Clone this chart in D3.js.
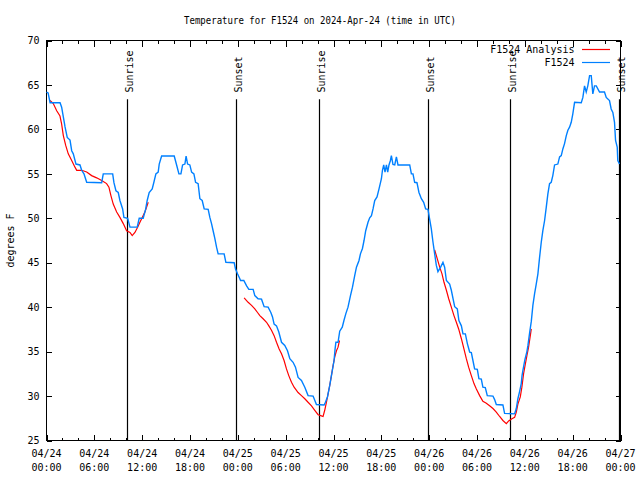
<!DOCTYPE html>
<html><head><meta charset="utf-8">
<script src="https://cdn.jsdelivr.net/npm/d3@7"></script>
<style>
body{margin:0;background:#fff}
svg text{font-family:"DejaVu Sans Mono","Liberation Mono",monospace;font-size:10px;fill:#000}
</style>
</head><body>
<svg id="chart" width="640" height="480"></svg>
<script>
// ---------- data ----------
const chartTitle = "Temperature for F1524 on 2024-Apr-24 (time in UTC)";
const yLabel = "degrees F";
const startUTC = "2024-04-24T00:00:00Z";
const spanHours = 72;
const majorTickHours = [0,6,12,18,24,30,36,42,48,54,60,66,72];
const minorTickHours = [2,4,8,10,14,16,20,22,26,28,32,34,38,40,44,46,50,52,56,58,62,64,68,70];
const xTickDates = ["04/24","04/24","04/24","04/24","04/25","04/25","04/25","04/25","04/26","04/26","04/26","04/26","04/27"];
const xTickTimes = ["00:00","06:00","12:00","18:00","00:00","06:00","12:00","18:00","00:00","06:00","12:00","18:00","00:00"];
const yTicks = [25,30,35,40,45,50,55,60,65,70];
const yDomain = [25,70];
const sunriseUTC = ["2024-04-24T10:08:00Z","2024-04-25T10:11:00Z","2024-04-26T10:09:00Z"];
const sunsetUTC  = ["2024-04-24T23:47:00Z","2024-04-25T23:53:00Z","2024-04-26T23:55:00Z"];
const sunLineTop = 63.4;     // degrees F where the marker line ends
const sunLabelBase = 64.15;  // degrees F where the marker label starts
const seriesNames = ["F1524 Analysis","F1524"];
const seriesColors = ["#ff0000","#0080ff"];

// F1524 observations: [hours since start, degrees F]
const stationObs = [[0.0,64.2],[0.2,64.1],[0.45,63],[1.7,63],[1.9,62.5],[2.11,61.4],[2.32,60.3],[2.6,59.1],[2.95,58.8],[3.16,57.6],[3.36,57.25],[3.7,56.1],[4.2,56],[4.41,55.4],[4.7,55],[5.04,54.05],[6.92,54],[7.12,55],[8.3,55],[8.46,54],[8.71,53.1],[9.0,52.9],[9.21,52],[9.55,51.05],[9.71,50.1],[10.18,50],[10.47,49],[11.38,49],[11.63,50],[12.13,50],[12.43,51],[12.63,52],[12.88,52.9],[13.26,53.3],[13.47,54.05],[13.72,55],[14.01,55.2],[14.14,56.1],[14.44,57],[16.02,57],[16.32,56],[16.61,55],[16.86,55],[17.07,56],[17.36,56.1],[17.51,57],[17.7,56.1],[17.98,56],[18.2,55.2],[18.49,55],[18.7,54.05],[19.02,53.9],[19.24,52.2],[19.53,52],[19.78,51.05],[20.28,51],[20.49,50.1],[20.7,49.4],[20.9,48.6],[21.12,47.7],[21.33,46.75],[21.53,46],[22.28,46],[22.5,45.05],[23.54,45],[23.71,44.3],[23.96,43.75],[24.25,43.2],[24.34,43],[24.75,43],[25.1,42.4],[25.38,42],[25.92,42],[26.13,41.3],[26.54,40.95],[26.97,40.9],[27.3,40.05],[27.8,40],[28.14,39.4],[28.35,38.9],[28.55,38.1],[28.85,37.9],[29.14,37.2],[29.48,36.05],[29.89,35.7],[30.23,35.1],[30.52,34.2],[30.93,33.8],[31.23,33.25],[31.56,32.1],[31.98,31.75],[32.4,31],[32.81,30.05],[33.44,30],[33.86,29.05],[34.82,29],[34.99,29.3],[35.24,29.9],[35.53,31.2],[35.74,32.3],[36.07,34],[36.2,35.3],[36.3,36.05],[36.57,36.05],[36.78,37.3],[37.1,37.75],[37.31,38.5],[37.54,39.25],[37.82,40],[38.13,41.3],[38.38,42.25],[38.66,43.55],[38.88,44.5],[39.2,45.25],[39.38,46],[39.63,46.6],[39.83,47.5],[40.04,48.6],[40.33,49.55],[40.54,50.05],[40.76,50.3],[40.96,51.05],[41.17,52],[41.46,52.4],[41.71,53.3],[42.01,54.45],[42.14,55.4],[42.3,56],[42.46,55.2],[42.64,56],[42.8,55.2],[42.96,56],[43.14,56.5],[43.26,57.05],[43.46,56.05],[43.68,56],[43.89,56.9],[44.09,56],[45.56,56],[45.77,55],[45.97,55],[46.18,54.05],[46.47,54],[46.72,52.9],[47.02,52.2],[47.31,51.8],[47.56,51.05],[47.85,51],[48.06,49.9],[48.27,48.8],[48.48,47.3],[48.69,46],[48.9,44.7],[49.1,44],[49.44,44.5],[49.73,45.05],[49.94,44.5],[50.16,43],[50.57,42.6],[50.78,41.9],[51.2,40.05],[51.53,39.8],[51.73,38.5],[52.04,37.9],[52.24,37],[52.54,37],[52.79,35.9],[53.08,34.95],[53.29,34.9],[53.49,34],[53.7,33.05],[54.04,33],[54.24,31.95],[54.54,31.9],[54.74,31],[55.04,30.95],[55.29,30.05],[56.0,30],[56.21,29.6],[56.42,29.05],[57.25,29],[57.46,28.05],[58.72,28],[58.93,28.6],[59.13,29.7],[59.34,30.5],[59.55,31.4],[59.65,32.3],[59.76,32.9],[60.01,34.1],[60.26,35],[60.39,35.7],[60.6,37.1],[60.81,38.4],[61.01,40.2],[61.22,41.5],[61.43,42.6],[61.64,43.75],[61.85,45.6],[62.06,47.3],[62.26,48.6],[62.48,49.75],[62.69,51.25],[62.89,52.75],[63.1,53.9],[63.31,54.05],[63.51,54.8],[63.73,56],[64.14,56.1],[64.36,56.9],[64.57,57.05],[64.77,57.8],[64.98,58.4],[65.2,59.3],[65.4,59.9],[65.61,60.25],[65.82,60.8],[66.02,61.75],[66.24,63.05],[67.08,63],[67.28,63.6],[67.49,64.9],[67.7,64.2],[67.9,64.9],[68.12,66.05],[68.33,66.05],[68.53,64],[68.74,64.9],[68.96,64.9],[69.37,64.2],[69.99,64.2],[70.21,63.6],[70.62,63.25],[70.83,62.3],[71.04,61.9],[71.25,60.8],[71.38,58.75],[71.59,58],[71.66,56.5],[71.87,56.1]];

// F1524 Analysis, three separate runs: [hours since start, degrees F]
const analysisRun1 = [[0.44,63.25],[0.85,62.9],[1.28,62.1],[1.69,61.5],[1.9,60.6],[2.11,59.3],[2.41,58.2],[2.73,57.25],[3.16,56.5],[3.57,55.75],[3.79,55.4],[4.41,55.4],[5.04,55.2],[5.66,54.8],[6.29,54.55],[6.92,54.25],[7.54,53.9],[7.83,53.5],[8.08,52.55],[8.37,51.6],[8.8,50.7],[9.21,50.1],[9.63,49.4],[10.05,48.6],[10.47,48.4],[10.75,48.05],[11.09,48.4],[11.43,49],[11.72,49.55],[12.01,50.1],[12.34,50.7],[12.56,51.25],[12.76,51.8]];
const analysisRun2 = [[24.79,41.05],[25.29,40.55],[25.72,40.2],[26.13,39.8],[26.47,39.4],[26.76,39.05],[27.17,38.7],[27.6,38.3],[27.89,37.9],[28.22,37.4],[28.55,36.8],[28.85,36.05],[29.18,35.3],[29.48,34.75],[29.8,34],[30.1,33.05],[30.39,32.3],[30.73,31.55],[31.06,31],[31.56,30.4],[31.98,30.05],[32.4,29.7],[32.81,29.3],[33.24,28.9],[33.65,28.4],[34.07,27.9],[34.4,27.8],[34.69,27.7],[34.9,28.4],[35.11,29.3],[35.32,30.25],[35.53,31.2],[35.74,32.3],[35.94,33.4],[36.16,34.4],[36.37,35.1],[36.57,35.5],[36.75,36.25]];
const analysisRun3 = [[48.69,46.45],[49.03,45.4],[49.32,44.5],[49.61,43.75],[49.86,42.8],[50.16,41.9],[50.45,40.95],[50.78,40],[51.11,39.05],[51.41,38.3],[51.7,37.55],[52.04,36.45],[52.36,35.3],[52.66,34.2],[52.95,33.25],[53.29,32.3],[53.62,31.4],[53.92,30.8],[54.33,30.05],[54.74,29.4],[55.17,29.2],[55.58,28.9],[56.0,28.6],[56.42,28.2],[56.84,27.7],[57.25,27.25],[57.68,26.9],[57.97,27.2],[58.38,27.45],[58.72,27.6],[58.93,28.2],[59.13,29.1],[59.43,29.9],[59.63,31],[59.84,32.5],[60.06,33.6],[60.26,34.55],[60.47,35.5],[60.72,37],[60.81,37.55]];

// ---------- drawing ----------
const t0 = new Date(startUTC).getTime();
const toDate = h => new Date(t0 + h * 3600e3);
const svg = d3.select("#chart");
const L = 46.5, R = 620.5, T = 40.5, B = 440.5;

const x = d3.scaleUtc().domain([toDate(0), toDate(spanHours)]).range([L, R]);
const y = d3.scaleLinear().domain(yDomain).range([B, T]);

svg.append("rect").attr("width",640).attr("height",480).attr("fill","#fff");

// axes
svg.append("g").attr("transform",`translate(0,${B})`)
  .call(d3.axisBottom(x).tickValues(majorTickHours.map(toDate)).tickSize(-6).tickFormat(""));
svg.append("g").attr("transform",`translate(0,${B})`)
  .call(d3.axisBottom(x).tickValues(minorTickHours.map(toDate)).tickSize(-3).tickFormat(""));
svg.append("g").attr("transform",`translate(0,${T})`)
  .call(d3.axisTop(x).tickValues(majorTickHours.map(toDate)).tickSize(-6).tickFormat(""));
svg.append("g").attr("transform",`translate(0,${T})`)
  .call(d3.axisTop(x).tickValues(minorTickHours.map(toDate)).tickSize(-3).tickFormat(""));
const gy = svg.append("g").attr("transform",`translate(${L},0)`)
  .call(d3.axisLeft(y).tickValues(yTicks).tickSize(-5).tickPadding(7).tickFormat(d3.format("d")));
svg.append("g").attr("transform",`translate(${R},0)`)
  .call(d3.axisRight(y).tickValues(yTicks).tickSize(-5).tickFormat(""));
svg.selectAll(".domain").remove();
svg.selectAll(".tick line").attr("stroke","#000").attr("shape-rendering","crispEdges");
gy.selectAll("text").attr("font-family",null).attr("font-size",null);

// two-line x labels
const labelG = svg.append("g");
majorTickHours.forEach((h,i) => {
  const t = labelG.append("text").attr("text-anchor","middle");
  t.append("tspan").attr("x", x(toDate(h))).attr("y", B + 16).text(xTickDates[i]);
  t.append("tspan").attr("x", x(toDate(h))).attr("y", B + 30).text(xTickTimes[i]);
});

// border
svg.append("rect").attr("x",L).attr("y",T).attr("width",R-L).attr("height",B-T)
  .attr("fill","none").attr("stroke","#000").attr("stroke-width",1).attr("shape-rendering","crispEdges");

// sunrise / sunset markers
const markers = sunriseUTC.map(s => ({t:new Date(s), label:"Sunrise"}))
  .concat(sunsetUTC.map(s => ({t:new Date(s), label:"Sunset"})));
markers.forEach(m => {
  const px = Math.round(x(m.t) - 0.5) + 0.5;
  svg.append("line").attr("x1",px).attr("x2",px).attr("y1",y(sunLineTop)).attr("y2",B)
    .attr("stroke","#000").attr("stroke-width",1.2);
  svg.append("text").attr("transform",`translate(${px+5},${y(sunLabelBase)}) rotate(-90)`)
    .attr("text-anchor","start").text(m.label);
});

// series
const line = d3.line().x(d => x(toDate(d[0]))).y(d => y(d[1]));
[analysisRun1, analysisRun2, analysisRun3].forEach(run => {
  svg.append("path").datum(run).attr("d", line).attr("fill","none")
    .attr("stroke", seriesColors[0]).attr("stroke-width",1.2).attr("stroke-linejoin","miter");
});
svg.append("path").datum(stationObs).attr("d", line).attr("fill","none")
  .attr("stroke", seriesColors[1]).attr("stroke-width",1.4).attr("stroke-linejoin","miter");

// legend
seriesNames.forEach((name,i) => {
  const ly = 49.5 + i * 13;
  svg.append("text").attr("x",574.5).attr("y",ly+3.5).attr("text-anchor","end").text(name);
  svg.append("line").attr("x1",582).attr("x2",610).attr("y1",ly).attr("y2",ly)
    .attr("stroke",seriesColors[i]).attr("stroke-width",1.2);
});

// title and y label
svg.append("text").attr("x",320).attr("y",23.5).attr("text-anchor","middle")
  .attr("textLength",272).attr("lengthAdjust","spacingAndGlyphs").text(chartTitle);
svg.append("text").attr("transform",`translate(13.5,${(T+B)/2}) rotate(-90)`)
  .attr("text-anchor","middle").text(yLabel);
</script>
</body></html>
